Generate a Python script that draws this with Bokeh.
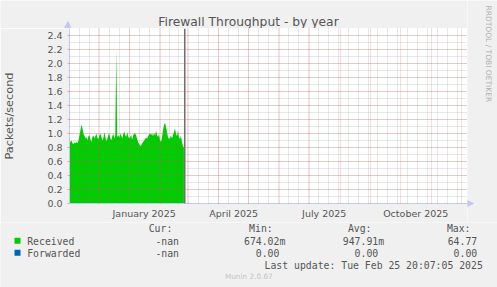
import math
import pandas as pd
from bokeh.plotting import figure
from bokeh.layouts import row, column
from bokeh.models import (Range1d, FixedTicker, SingleIntervalTicker, Label, Span, Plot,
                          PrintfTickFormatter, ColumnDataSource, BoxAnnotation, PolyAnnotation)
from bokeh.embed import file_html
from bokeh.resources import INLINE

# ---------------- data ----------------
TITLE = "Firewall Throughput - by year"
Y_LABEL = "Packets/second"
WATERMARK = "RRDTOOL / TOBI OETIKER"
FOOTER = "Munin 2.0.67"
LAST_UPDATE = "Last update: Tue Feb 25 20:07:05 2025"

series_names = ["Received", "Forwarded"]
series_colors = ["#00CC00", "#0066B3"]

first_day = "2024-11-01"   # daily samples
received = [
    0.90,
    0.90, 0.88, 0.90, 0.86,
    0.85, 0.87, 0.86, 0.88, 0.86,
    0.90, 0.97, 1.05,
    1.13, 1.08, 1.00,
    0.97, 0.93, 0.95, 0.90, 0.96, 0.98, 0.92, 0.88, 0.95, 0.97, 0.93, 0.96, 1.00, 0.94,
    0.92, 0.97, 1.00, 0.96, 0.90,
    0.93, 1.02, 0.95, 0.89, 0.92, 0.98, 1.00, 0.94, 0.90, 0.96, 1.00, 0.93,
    0.97,
    2.20,
    0.95, 0.98, 0.94, 1.00, 0.97, 0.93, 0.99, 1.03, 0.98, 0.95, 1.02,
    0.96, 0.93, 0.95, 0.98, 0.91, 0.97, 1.00,
    1.00, 0.97, 0.92, 0.88, 0.85,
    0.82, 0.83, 0.86, 0.88,
    0.90, 0.92, 0.94, 0.93, 0.96, 0.99, 1.00,
    0.98, 1.00, 0.96, 1.01, 0.97, 1.04, 0.98, 0.95, 0.99, 0.90,
    0.88, 0.95, 1.05, 1.12,
    1.15, 1.10,
    1.02, 0.95, 0.92, 0.94, 0.97, 0.93,
    0.98, 1.02, 1.07, 1.00, 0.96, 1.04,
    0.95, 0.92, 0.97, 0.88, 0.82, 0.80,
]
forwarded = [0.0] * len(received)

stat_headers = ["Cur:", "Min:", "Avg:", "Max:"]
cur_vals = ["-nan", "-nan"]
min_vals = ["674.02m", "0.00"]
avg_vals = ["947.91m", "0.00"]
max_vals = ["64.77", "0.00"]

x_tick_dates = ["2025-01-16", "2025-04-16", "2025-07-16", "2025-10-16"]
x_tick_labels = ["January 2025", "April 2025", "July 2025", "October 2025"]
y_ticks = [0.0, 0.2, 0.4, 0.6, 0.8, 1.0, 1.2, 1.4, 1.6, 1.8, 2.0, 2.2, 2.4]

view_start = "2024-11-02"
view_end = "2025-12-07"
last_update_time = "2025-02-25 20:07:05"

# ---------------- helpers ----------------
def ms(s):
    return pd.Timestamp(s).value / 1e6

DAY = 86400000.0
dates = pd.date_range(first_day, periods=len(received), freq="D")
src = ColumnDataSource(dict(date=dates, received=received, forwarded=forwarded))

x0, x1 = ms(view_start), ms(view_end)
month_lines = [ms(d) for d in pd.date_range("2024-12-01", "2025-12-01", freq="MS")]
minor_lines = [x0 + 10 * k * DAY for k in range(1, 41)]

BG = "#F0F0F0"
TEXT = "#555555"
AXIS = "#c4c8f0"
W, H = 497, 287
FL = 67            # frame left (canvas px)
TOP_H = 28         # strip above the frame
MAIN_H = 194       # frame (175) + x-axis band (19)
LEFT_W = 467
LEG_H = H - TOP_H - MAIN_H
TXT_SHIFT = 2.4    # renderer draws alphabetic baselines slightly low

HAS_FRAME_ALIGN = "frame_align" in Plot.properties()


def no_align(f):
    if HAS_FRAME_ALIGN:
        f.frame_align = False
    return f


def strip(width, height):
    f = figure(width=width, height=height, output_backend="svg", toolbar_location=None,
               x_axis_location=None, y_axis_location=None, title=None, min_border=0,
               x_range=Range1d(0, width), y_range=Range1d(0, height),
               background_fill_color=BG, border_fill_color=BG, outline_line_color=None)
    f.grid.visible = False
    return no_align(f)


def add_text(fig, fig_top, text, cx, cy, size, color, font="DejaVu Sans", align="left",
             baseline="alphabetic", angle=0.0, fig_left=0):
    h = fig.height
    if baseline == "alphabetic":
        cy = cy - TXT_SHIFT
    fig.add_layout(Label(x=cx - fig_left, y=h - (cy - fig_top), x_units="screen",
                         y_units="screen", text=text, text_font=font,
                         text_font_size=f"{size}px", text_color=color, text_align=align,
                         text_baseline=baseline, angle=angle))


# ---------------- top strip: title + y-axis arrow ----------------
top = strip(LEFT_W, TOP_H)
add_text(top, 0, TITLE, 248, 24.3, 12.3, TEXT, align="center")
top.add_layout(PolyAnnotation(xs=[FL - 3.5, FL + 0.5, FL + 3.5], ys=[0, 7, 0],
                              xs_units="screen", ys_units="screen",
                              fill_color=AXIS, fill_alpha=1, line_color=AXIS, line_alpha=1))

# ---------------- main plot ----------------
p = figure(width=LEFT_W, height=MAIN_H, x_axis_type="datetime", output_backend="svg",
           toolbar_location=None, title=None, x_range=Range1d(x0, x1), y_range=Range1d(0, 2.5),
           min_border_left=FL, min_border_right=0, min_border_top=0, min_border_bottom=19,
           background_fill_color="white", border_fill_color=BG, outline_line_color=None)
no_align(p)

p.varea(x="date", y1=0, y2="received", source=src, fill_color=series_colors[0])
p.varea(x="date", y1=0, y2="forwarded", source=src, fill_color=series_colors[1])

p.xgrid.ticker = FixedTicker(ticks=month_lines, minor_ticks=minor_lines)
p.ygrid.ticker = SingleIntervalTicker(interval=0.2, num_minor_ticks=2)
for g in (p.xgrid[0], p.ygrid[0]):
    g.level = "overlay"
    g.grid_line_color = "#e05050"
    g.grid_line_alpha = 0.4
    g.grid_line_dash = "1 1"
    g.minor_grid_line_color = "#808080"
    g.minor_grid_line_alpha = 0.36
    g.minor_grid_line_dash = "1 1"

xa = p.xaxis[0]
xa.ticker = FixedTicker(ticks=[ms(d) for d in x_tick_dates])
xa.major_label_overrides = {ms(d): lab for d, lab in zip(x_tick_dates, x_tick_labels)}
xa.major_tick_line_color = None
xa.minor_tick_line_color = None
xa.major_tick_out = 0
xa.major_tick_in = 0
xa.major_label_standoff = 4

ya = p.yaxis[0]
ya.ticker = FixedTicker(ticks=y_ticks)
ya.formatter = PrintfTickFormatter(format="%.1f")
ya.major_tick_line_color = "#f0a0a0"
ya.major_tick_out = 2
ya.major_tick_in = 0
ya.minor_tick_line_color = None
ya.major_label_standoff = 5
ya.axis_label = Y_LABEL
ya.axis_label_text_font = "DejaVu Sans"
ya.axis_label_text_font_size = "11.3px"
ya.axis_label_text_font_style = "normal"
ya.axis_label_text_color = TEXT
ya.axis_label_standoff = 28

for a in (xa, ya):
    a.axis_line_color = AXIS
    a.major_label_text_font = "DejaVu Sans"
    a.major_label_text_font_size = "9.5px"
    a.major_label_text_color = TEXT

p.add_layout(Span(location=ms(last_update_time), dimension="height",
                  line_color="#6e6e6e", line_width=1.5))

# ---------------- right strip: watermark + x-axis arrow ----------------
RIGHT_W = W - LEFT_W
right = strip(RIGHT_W, TOP_H + MAIN_H)
add_text(right, 0, WATERMARK, 487.7, 53.3, 7.5, "#b0b0b0", align="center",
         baseline="middle", angle=-math.pi / 2, fig_left=LEFT_W)
axis_y = right.height - (TOP_H + 175)
right.add_layout(PolyAnnotation(xs=[0, 6, 0], ys=[axis_y - 3, axis_y, axis_y + 3],
                                xs_units="screen", ys_units="screen",
                                fill_color=AXIS, fill_alpha=1, line_color=AXIS, line_alpha=1))

# ---------------- legend / statistics strip ----------------
leg = strip(W, LEG_H)
LT = TOP_H + MAIN_H
MONO = "DejaVu Sans Mono"
MS = 9.8
CW = 5.9
col_right = [184.4, 284.8, 383.6, 482.6]
hdr_y = 230.7
row_y = [243.3, 255.3]
for h, cr in zip(stat_headers, col_right):
    add_text(leg, LT, h, cr - 12.6, hdr_y, MS, TEXT, font=MONO, align="right")
rows = list(zip(cur_vals, min_vals, avg_vals, max_vals))
for name, colr, ry, vals in zip(series_names, series_colors, row_y, rows):
    sq_top = ry - 6
    leg.add_layout(BoxAnnotation(left=14, right=20, top=LEG_H - (sq_top - LT),
                                 bottom=LEG_H - (ry - LT), left_units="screen",
                                 right_units="screen", top_units="screen",
                                 bottom_units="screen", fill_color=colr, fill_alpha=1,
                                 line_color=None))
    add_text(leg, LT, name, 26.7, ry, MS, TEXT, font=MONO)
    for v, cr in zip(vals, col_right):
        rx = cr if v[-1] in "kmMGu" else cr - CW
        add_text(leg, LT, v, rx, ry, MS, TEXT, font=MONO, align="right")
add_text(leg, LT, LAST_UPDATE, 482.3, 267.3, MS, TEXT, font=MONO, align="right")
add_text(leg, LT, FOOTER, 248.3, 278.5, 7.3, "#c4c4c4", align="center")

layout = column(row(column(top, p), right), leg)
open("out.html", "w").write(file_html(layout, INLINE))
